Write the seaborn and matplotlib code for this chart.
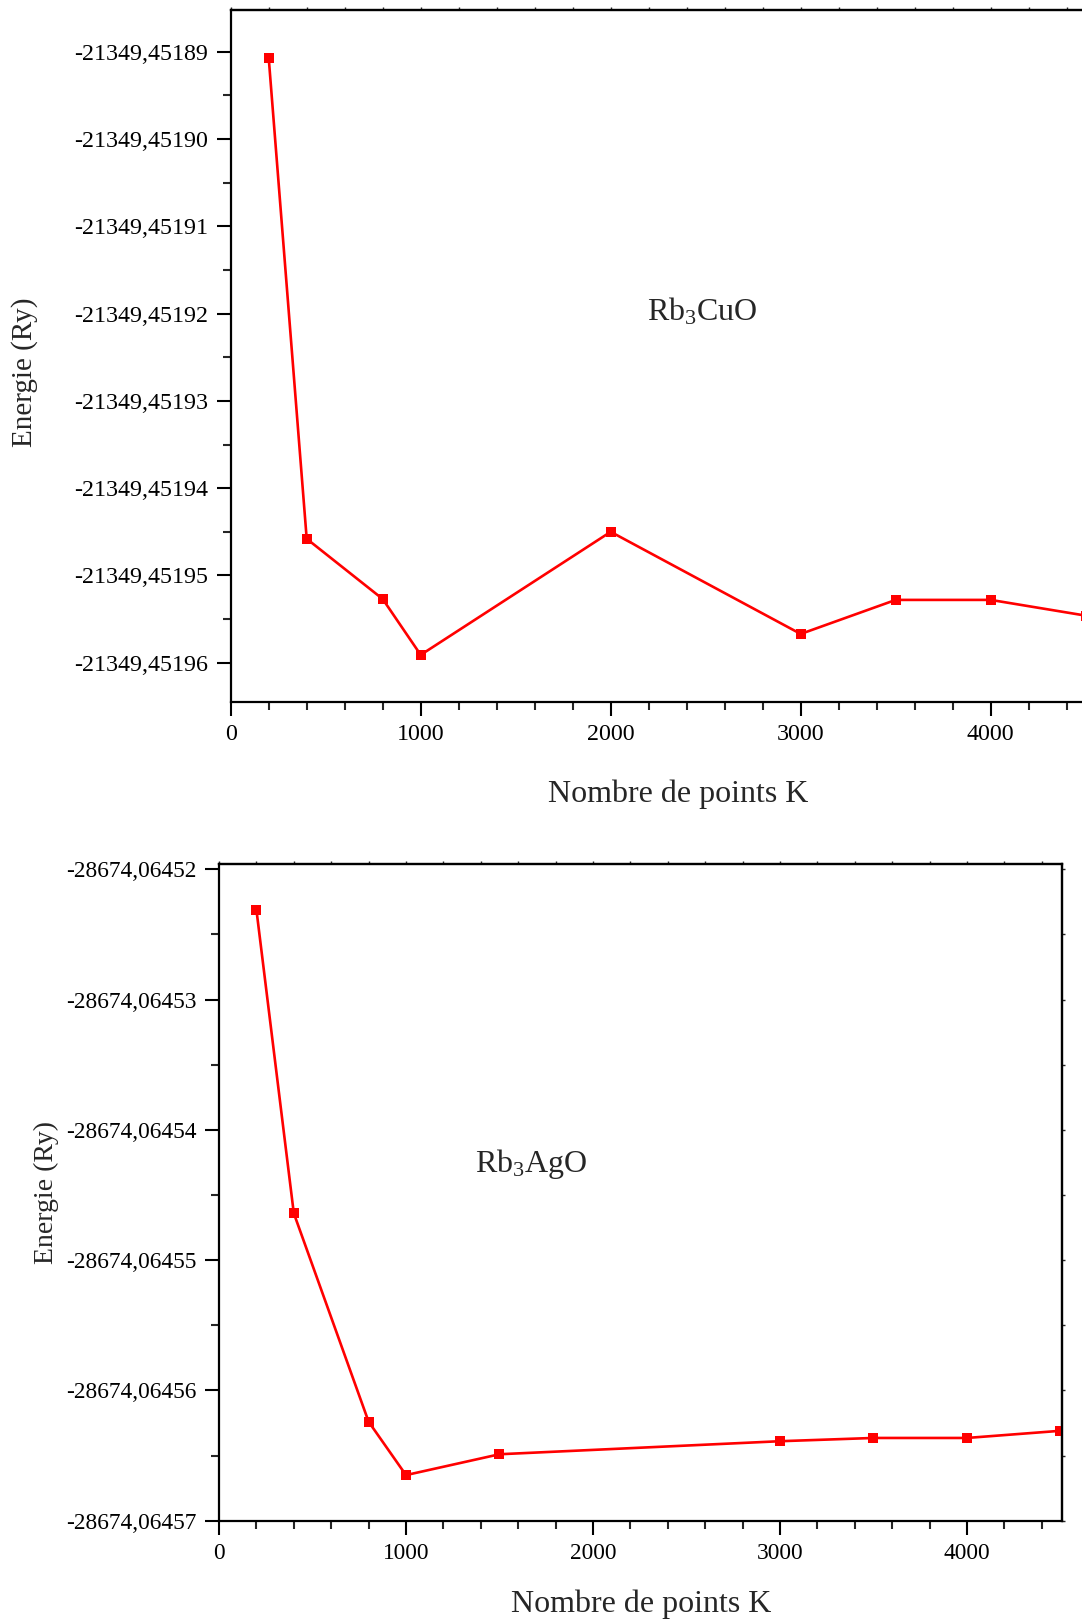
import matplotlib
matplotlib.use("Agg")
import matplotlib.pyplot as plt
from matplotlib.ticker import FixedLocator, FuncFormatter, MultipleLocator
import seaborn as sns
import pandas as pd

# k-point convergence, Rb3CuO
k_cu = [200, 400, 800, 1000, 2000, 3000, 3500, 4000, 4500]
e_cu = [-21349.4518907, -21349.4519458, -21349.4519527, -21349.4519591,
        -21349.4519450, -21349.4519567, -21349.4519528, -21349.4519528,
        -21349.4519546]

# k-point convergence, Rb3AgO
k_ag = [200, 400, 800, 1000, 1500, 3000, 3500, 4000, 4500]
e_ag = [-28674.0645231, -28674.0645464, -28674.0645624, -28674.0645665,
        -28674.0645649, -28674.0645639, -28674.06456365, -28674.06456365,
        -28674.0645631]

yticks_cu = [-21349.45189, -21349.45190, -21349.45191, -21349.45192,
             -21349.45193, -21349.45194, -21349.45195, -21349.45196]
yticks_ag = [-28674.06452, -28674.06453, -28674.06454, -28674.06455,
             -28674.06456, -28674.06457]
xticks = [0, 1000, 2000, 3000, 4000]

xlabel = "Nombre de points K"
ylabel = "Energie (Ry)"

sns.set_theme(style="ticks")
plt.rcParams["font.family"] = ["Liberation Serif", "DejaVu Serif"]
plt.rcParams["axes.unicode_minus"] = False
plt.rcParams["mathtext.fontset"] = "custom"
plt.rcParams["mathtext.rm"] = "Liberation Serif"

fig = plt.figure(figsize=(10.82, 16.21), dpi=100)

W, H = 1082.0, 1621.0


def px_axes(left, top, right, bottom):
    return fig.add_axes([left / W, 1 - bottom / H, (right - left) / W, (bottom - top) / H])


comma_fmt = FuncFormatter(lambda v, p: f"{v:.5f}".replace(".", ","))


def style(ax, yticks, xmax, tick_size):
    ax.set_xlim(0, xmax)
    ax.xaxis.set_major_locator(FixedLocator(xticks))
    ax.xaxis.set_minor_locator(MultipleLocator(200))
    ax.yaxis.set_major_locator(FixedLocator(yticks))
    halves = [t - 0.5e-5 for t in yticks] + [yticks[0] + 0.5e-5]
    ax.yaxis.set_minor_locator(FixedLocator(halves))
    ax.yaxis.set_major_formatter(comma_fmt)
    ax.tick_params(which="major", direction="out", length=10, width=1.5,
                   labelsize=tick_size, pad=6, colors="black")
    ax.tick_params(which="minor", direction="out", length=5.5, width=1.5)
    for s in ax.spines.values():
        s.set_linewidth(1.6)
        s.set_color("black")
    ax.set_xlabel(xlabel, fontsize=23)
    ax.set_ylabel(ylabel, fontsize=21)
    top = ax.secondary_xaxis("top")
    top.xaxis.set_major_locator(MultipleLocator(200))
    top.tick_params(length=2, width=1, labeltop=False)
    top.spines["top"].set_linewidth(1.6)


def draw(ax, k, e):
    df = pd.DataFrame({"k": k, "E": e})
    sns.lineplot(data=df, x="k", y="E", ax=ax, color="#ff0000", linewidth=1.9,
                 marker="s", markersize=7.5, markeredgewidth=0, errorbar=None)


# upper panel (extends past the right edge of the page)
ax1 = px_axes(230.7, 10, 230.7 + 0.19 * 4600, 701.7)
draw(ax1, k_cu, e_cu)
ax1.set_ylim(-21349.45196446, -21349.45188523)
style(ax1, yticks_cu, 4600, 17.3)
ax1.xaxis.set_label_coords(0.512, -0.1124)
ax1.yaxis.set_label_coords(-0.2205, 0.476)
ax1.text(0.4763, 0.5518, r"$\mathregular{Rb_3CuO}$", transform=ax1.transAxes,
         fontsize=23, ha="left", va="baseline")

# lower panel
ax2 = px_axes(219, 864, 1062.3, 1520.7)
draw(ax2, k_ag, e_ag)
ax2.set_ylim(-28674.06457, -28674.0645196)
style(ax2, yticks_ag, 4510, 16.8)
right = ax2.secondary_yaxis("right")
right.yaxis.set_major_locator(FixedLocator([t - 0.5e-5 for t in yticks_ag] + yticks_ag))
right.tick_params(length=2, width=1, labelright=False)
right.spines["right"].set_linewidth(1.6)
ax2.xaxis.set_label_coords(0.5004, -0.1052)
ax2.yaxis.set_label_coords(-0.19, 0.4876)
ax2.set_ylabel(ylabel, fontsize=20)
ax2.text(0.3036, 0.531, r"$\mathregular{Rb_3AgO}$", transform=ax2.transAxes,
         fontsize=23, ha="left", va="baseline")

fig.savefig("out.png", dpi=100)
